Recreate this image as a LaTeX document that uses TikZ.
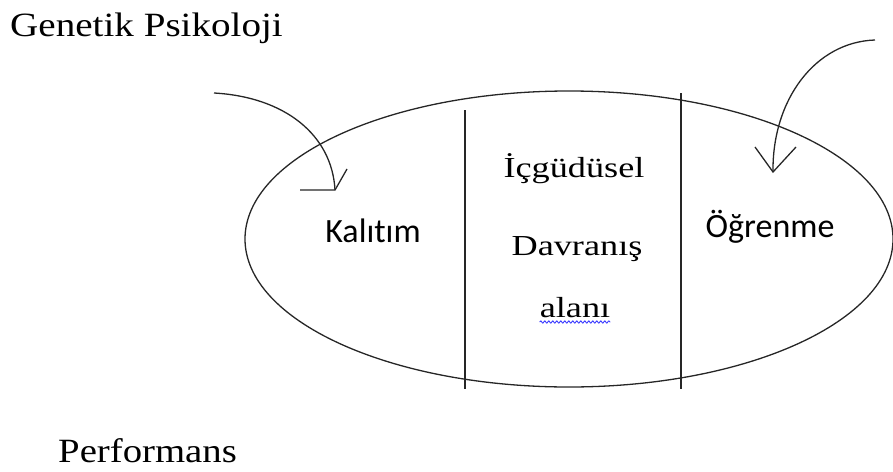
\documentclass[tikz,border=0pt]{standalone}
\usepackage{fontspec}
\setmainfont{Liberation Serif}
\newfontfamily\calib[Ligatures=NoCommon]{Carlito}
\usetikzlibrary{decorations.pathmorphing}
\begin{document}
\begin{tikzpicture}[x=1pt,y=-1pt,
  line/.style={line width=1.3pt, black!85},
  serif/.style={font=\fontsize{34}{40}\selectfont, inner sep=0pt, anchor=base west},
  mid/.style={font=\fontsize{29}{32}\selectfont, inner sep=0pt, anchor=base},
  sans/.style={font=\calib\fontsize{34}{40}\selectfont, inner sep=0pt, anchor=base}]
\useasboundingbox (0,0) rectangle (893,471);
% ellipse
\draw[line] (569,239) ellipse [x radius=324, y radius=148];
% dividers
\coordinate (d1t) at (465,110); \coordinate (d1b) at (465,389);
\coordinate (d2t) at (681,93);  \coordinate (d2b) at (681,389);
\draw[line] (d1t) -- (d1b);
\draw[line] (d2t) -- (d2b);
% titles
\node[serif] (title) at (10,36) {\scalebox{1.15}[1]{Genetik Psikoloji}};
\node[serif] (perf) at (58,462) {\scalebox{1.14}[1]{Performans}};
% compartment texts
\node[sans] (kal) at (373,242) {Kalıtım};
\node[sans] (ogr) at (770,237) {Öğrenme};
\node[mid] (icg) at (574,177) {\scalebox{1.25}[1]{İçgüdüsel}};
\node[mid] (dav) at (577,255) {\scalebox{1.25}[1]{Davranış}};
\node[mid] (ala) at (575,317) {\scalebox{1.25}[1]{alanı}};
\draw[blue!75, line width=0.9pt, decorate, decoration={snake, amplitude=1.1pt, segment length=4pt}]
  ([yshift=-5pt]ala.base west) -- ([yshift=-5pt]ala.base east);
% left arrow
\coordinate (la0) at (214,93);
\coordinate (la1) at (335,190);
\coordinate (la2) at (300,190);
\coordinate (la3) at (347,169);
\draw[line] (la0) .. controls (285,97) and (332,135) .. (la1);
\draw[line] (la2) -- (la1) -- (la3);
% right arrow
\coordinate (ra0) at (875,40);
\coordinate (ra1) at (773,172);
\coordinate (ra2) at (755,147);
\coordinate (ra3) at (796,147);
\draw[line] (ra0) .. controls (815,42) and (772,100) .. (ra1);
\draw[line] (ra2) -- (ra1) -- (ra3);
\end{tikzpicture}
\end{document}
